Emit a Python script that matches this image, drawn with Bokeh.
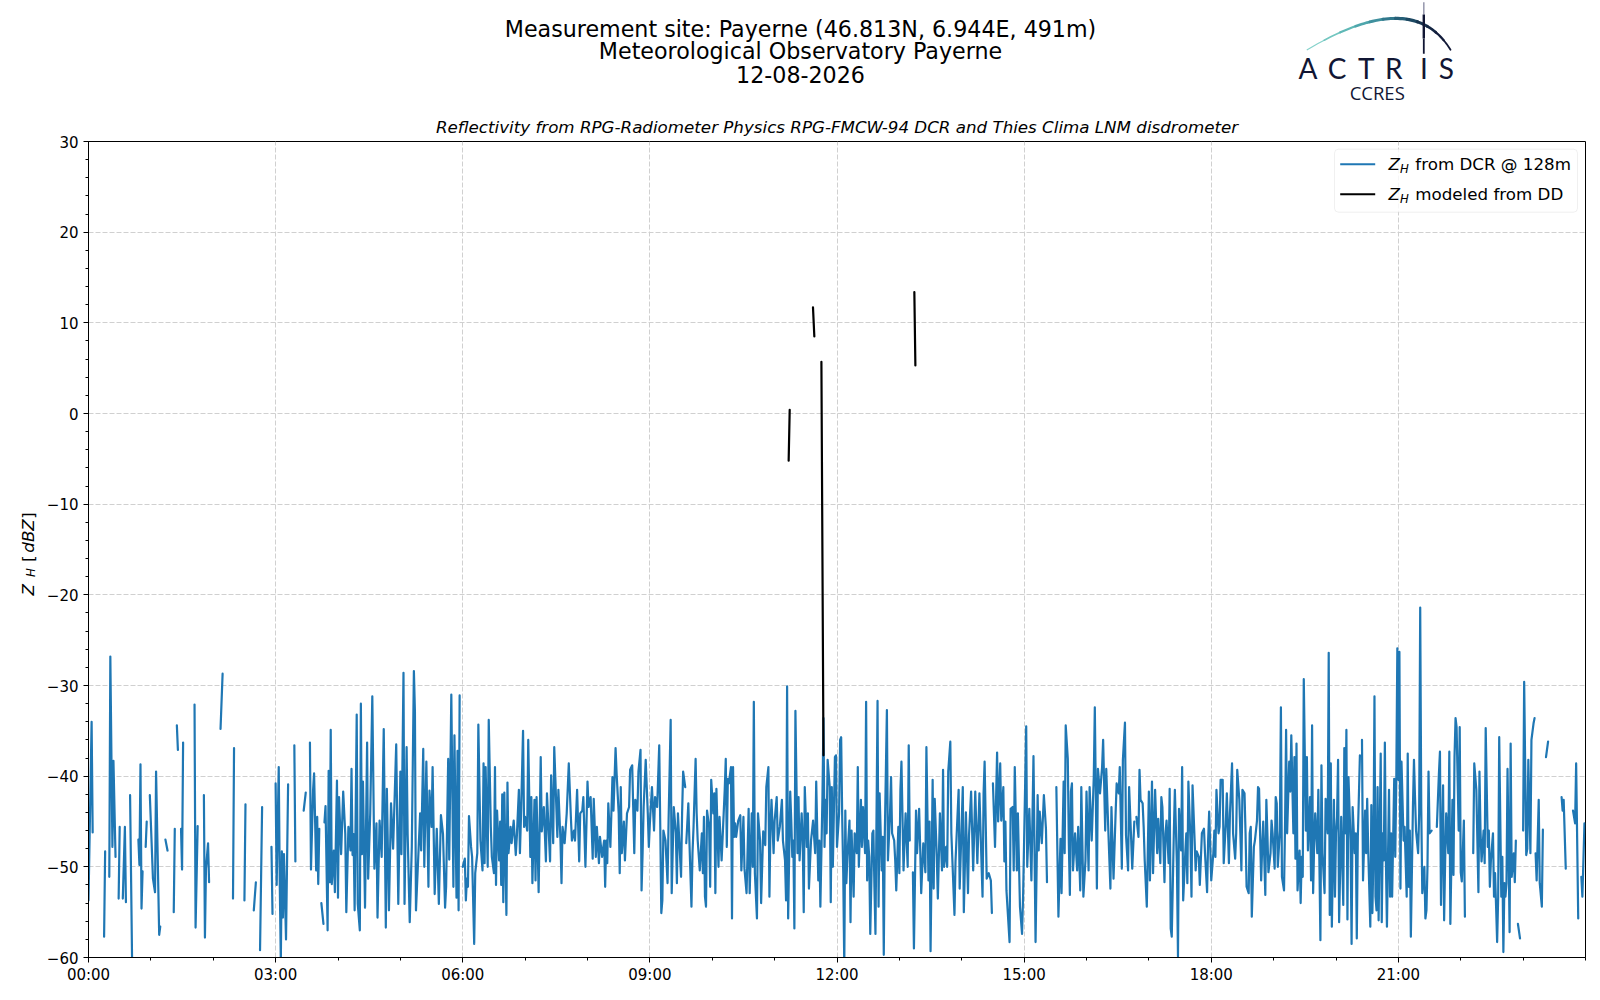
import numpy as np
from bokeh.plotting import figure
from bokeh.layouts import column, row
from bokeh.models import Range1d, FixedTicker, Label, BoxAnnotation
from bokeh.core.properties import value
from bokeh.embed import file_html
from bokeh.resources import INLINE

# ---------------- texts ----------------
SUPTITLE = ["Measurement site: Payerne (46.813N, 6.944E, 491m)",
            "Meteorological Observatory Payerne",
            "12-08-2026"]
SUBTITLE = "Reflectivity from RPG-Radiometer Physics RPG-FMCW-94 DCR and Thies Clima LNM disdrometer"
LEGEND_TEXT = ["from DCR @ 128m", "modeled from DD"]

X_TICKS_MIN = [0, 180, 360, 540, 720, 900, 1080, 1260]
X_TICK_LABELS = ["00:00", "03:00", "06:00", "09:00", "12:00", "15:00", "18:00", "21:00"]
X_MINOR_MIN = list(range(0, 1441, 60))
Y_TICKS = [-60, -50, -40, -30, -20, -10, 0, 10, 20, 30]
Y_TICK_LABELS = ["\u221260", "\u221250", "\u221240", "\u221230", "\u221220", "\u221210", "0", "10", "20", "30"]
Y_MINOR = list(range(-60, 31, 2))

# ---------------- data: Z_H from DCR (minute of day, dBZ); None = gap ----------------
DCR_00_03 = [
    (0, -53.7), (3, -34.0), (4, -46.2), None,
    (15, -57.7), (16, -48.3), None,
    (20, -51.1), (21, -26.8), (23, -47.8), (24, -38.3), (26, -48.9), None,
    (29, -53.5), (30, -45.6), None,
    (33, -53.5), (35, -45.6), (36, -53.9), None,
    (40, -42.1), (42, -61.0), None,
    (48, -47.0), (49, -49.8), (50, -38.7), (51, -54.6), (52, -50.5), None,
    (55, -47.8), (56, -45.0), None,
    (59, -42.1), (62, -51.3), (64, -52.8), (65, -39.5), (68, -57.5), (69, -56.6), None,
    (74, -47.0), (76, -48.2), None,
    (82, -55.0), (83, -45.8), None,
    (85, -34.4), (86, -37.1), None,
    (89, -45.8), (90, -50.3), (91, -36.3), None,
    (102, -32.1), (103, -56.7), (105, -45.5), None,
    (111, -42.1), (112, -57.8), (113, -50.2), (115, -47.4), (116, -51.7), None,
    (127, -34.8), (129, -28.7), None,
    (139, -53.5), (140, -36.9), None,
    (150, -53.7), (151, -43.1), None,
    (159, -54.8), (161, -51.7), None,
    (165, -59.2), (167, -43.4), None,
    (176, -47.8), (177, -55.2), None,
]
DCR_03_06 = [
    (180, -40.8), (181, -52.0), (183, -39.0), (184, -52.0), (185, -60.5), (186, -48.3),
    (187, -55.6), (188, -48.6), (190, -58.0), (192, -40.9), None,
    (198, -36.6), (199, -49.4), None,
    (207, -43.8), (209, -41.8), None,
    (213, -36.3), (214, -50.3), (216, -41.6), (217, -39.7), (219, -50.4), (220, -44.5),
    (221, -51.9), (222, -45.8), None,
    (224, -54.0), (226, -56.3), None,
    (227, -45.1), (228, -43.3), (230, -57.0), (231, -39.4), (232, -51.7), (233, -34.9),
    (234, -51.9), (236, -48.2), (237, -52.8), (239, -40.5), (240, -53.4), (241, -42.3),
    (243, -48.6), (245, -41.7), (247, -46.4), (248, -55.0), (250, -45.6), (252, -48.2),
    (253, -39.2), (254, -48.7), (255, -46.4), (256, -54.8), (258, -33.2), (259, -54.1),
    (261, -57.0), (262, -32.0), (263, -48.6), (264, -40.6), (266, -54.5), (268, -36.3),
    (269, -51.3), (271, -44.1), (273, -31.2), (275, -50.2), (277, -45.2), (278, -55.6),
    (280, -44.9), (282, -48.9), (284, -34.8), (286, -56.7), (287, -41.4), (289, -54.8),
    (291, -43.0), (293, -48.0), (296, -36.5), (298, -54.1), (300, -39.5), (301, -48.6),
    (303, -28.6), (304, -54.1), (306, -36.8), (307, -46.4), (309, -56.1), (311, -47.8),
    (313, -28.4), (314, -32.9), (315, -54.8), (319, -44.1), (320, -48.2), (322, -37.0),
    (323, -50.0), (325, -38.4), (327, -52.2), (328, -41.6), (330, -45.6), (331, -39.0),
    (333, -53.0), (335, -45.8), (337, -54.1), (339, -44.3), (341, -46.4), (343, -54.5),
    (344, -52.2), (346, -38.1), (347, -49.2), (349, -31.0), (351, -52.2), (352, -35.5),
    (354, -53.4), (355, -37.2), (356, -54.8), (357, -31.1),
]
DCR_06_09 = [
    (360, -50.0), (362, -49.1), (363, -53.7), (364, -51.3), (365, -52.2), (366, -44.4),
    (368, -47.8), (369, -48.9), (371, -58.5), (372, -50.7), (374, -48.5), (375, -34.3),
    (377, -47.1), (379, -50.4), (380, -38.6), (381, -49.6), (382, -39.0), (384, -50.0),
    (385, -33.8), (387, -45.6), (388, -48.9), (390, -50.7), (391, -39.0), (392, -52.0),
    (393, -43.8), (395, -49.3), (396, -45.0), (397, -52.0), (398, -42.0), (399, -53.9),
    (400, -41.8), (402, -55.3), (403, -40.7), (404, -48.5), (406, -45.6), (407, -47.4),
    (409, -44.9), (411, -48.7), (412, -46.7), (414, -41.5), (415, -48.5), (416, -44.5),
    (418, -35.0), (419, -45.6), (420, -44.5), (422, -46.0), (423, -36.0), (425, -48.9),
    (426, -42.3), (427, -51.8), (429, -42.6), (430, -51.5), (431, -42.3), (433, -52.8),
    (435, -37.9), (436, -46.1), (438, -43.4), (440, -49.4), (441, -41.9), (443, -46.9),
    (444, -49.4), (445, -39.9), (447, -47.4), (448, -36.8), (449, -40.0), (451, -46.7),
    (452, -41.5), (454, -47.1), (455, -51.8), (456, -45.6), (458, -47.4), (460, -44.1),
    (462, -38.6), (464, -44.5), (465, -47.1), (467, -46.0), (468, -47.1), (470, -41.5),
    (472, -49.4), (473, -44.1), (475, -43.8), (476, -42.3), (478, -50.0), (480, -40.6),
    (481, -43.4), (483, -42.3), (485, -49.1), (486, -42.5), (488, -48.9), (489, -45.6),
    (491, -49.6), (492, -46.7), (494, -48.9), (496, -47.1), (497, -52.2), (498, -47.1),
    (499, -49.6), (500, -43.0), (502, -47.8), (504, -40.1), (505, -43.8), (507, -36.9),
    (508, -39.7), (510, -44.1), (511, -50.7), (512, -41.2), (513, -48.5), (515, -45.0),
    (516, -49.3), (518, -44.1), (520, -43.4), (521, -39.3), (523, -38.8), (525, -48.5),
    (526, -42.6), (528, -43.8), (529, -39.5), (531, -37.1), (532, -52.6), (533, -48.5),
    (534, -43.4), (536, -38.2), (538, -44.1), (539, -47.8), (540, -45.2), (542, -41.2),
    (544, -46.0), (545, -42.3), (547, -43.4), (549, -36.6), (550, -45.6), (551, -55.1),
    (552, -53.7), (553, -46.0), (555, -47.1), (557, -51.8), (558, -44.9), (560, -33.8),
    (561, -52.9), (563, -43.4), (565, -46.3), (566, -51.8), (567, -44.1), (570, -51.1),
    (571, -44.1), (572, -39.5), (574, -41.2),
]
DCR_09_13 = [
    (575, -47.4), (577, -43.0), (578, -47.1), (580, -54.4), (581, -48.5), (582, -45.6),
    (584, -38.1), (585, -44.1), (586, -47.1), (588, -50.4), (590, -46.3), (591, -50.7),
    (592, -44.5), (593, -53.3), (594, -54.4), (595, -43.8), (597, -45.6), (598, -52.2),
    (599, -40.4), (601, -44.1), (602, -41.9), (603, -52.9), (604, -41.4), (606, -50.0),
    (607, -44.5), (609, -49.3), (611, -44.1), (612, -41.5), (613, -38.1), (614, -47.8),
    (615, -40.3), (616, -40.8), (618, -39.0), (619, -55.7), (620, -39.0), (621, -46.7),
    (622, -45.2), (623, -46.7), (625, -44.9), (627, -44.3), (628, -50.4), (630, -44.5),
    (631, -50.2), (633, -52.9), (635, -43.6), (636, -52.9), (638, -44.1), (639, -50.0),
    (640, -31.8), (641, -50.7), (643, -55.7), (644, -44.1), (646, -47.1), (647, -54.0),
    (649, -46.1), (651, -47.6), (652, -41.2), (654, -39.0), (655, -53.3), (656, -45.6),
    (657, -42.6), (659, -48.5), (660, -44.9), (662, -42.3), (663, -47.1), (665, -45.6),
    (667, -42.6), (668, -47.1), (670, -49.3), (671, -53.7), (672, -30.1), (673, -55.7),
    (675, -41.7), (676, -44.9), (677, -48.9), (678, -47.1), (679, -56.8), (680, -32.8),
    (682, -48.5), (683, -42.3), (684, -49.3), (686, -44.1), (687, -47.1), (688, -55.0),
    (689, -41.2), (691, -47.8), (692, -44.1), (693, -52.4), (695, -47.1), (696, -46.0),
    (697, -44.9), (699, -48.5), (700, -40.6), (702, -51.5), (703, -47.1), (704, -54.4),
    (706, -42.3), (707, -33.6), (708, -47.8), (709, -42.6), (710, -46.3), (711, -38.2),
    (713, -41.2), (714, -53.9), (715, -41.2), (716, -50.0), (718, -37.9), (719, -37.7),
    (720, -47.8), (722, -44.1), (723, -36.0), (724, -35.7), (725, -44.5), (726, -50.7),
    (727, -61.0), (728, -43.8), (729, -51.8), (730, -48.9), (732, -44.9), (733, -56.1),
    (734, -46.0), (736, -53.3), (737, -46.3), (739, -48.5), (740, -39.0), (741, -50.0),
    (743, -42.6), (744, -47.8), (745, -43.4), (747, -48.5), (748, -31.8), (749, -51.5),
    (750, -47.1), (751, -48.9), (752, -57.4), (754, -46.3), (755, -46.0), (756, -52.2),
    (757, -57.4), (759, -31.7), (760, -54.4), (761, -41.9), (763, -50.4), (764, -46.7),
    (765, -59.7), (766, -46.3), (768, -32.7), (769, -49.3), (771, -44.1), (772, -40.1),
    (773, -46.3), (775, -47.1), (776, -49.3), (777, -52.6), (779, -45.6), (780, -50.7),
    (781, -41.5), (782, -38.4), (784, -50.4), (785, -47.1), (786, -44.1), (788, -50.0),
    (789, -36.6), (790, -47.1),
]
DCR_13_17 = [
    (793, -50.6), (794, -59.0), (796, -43.8), (797, -48.5), (799, -43.6), (800, -47.8),
    (801, -52.9), (803, -47.4), (805, -50.6), (806, -36.8), (808, -51.5), (809, -45.0),
    (810, -59.3), (812, -40.4), (813, -52.4), (814, -42.5), (816, -48.9), (817, -53.5),
    (819, -44.1), (821, -50.4), (822, -39.3), (823, -50.0), (825, -47.8), (826, -50.0),
    (827, -39.5), (829, -36.2), (830, -46.3), (833, -55.3), (834, -49.4), (837, -41.5),
    (838, -52.4), (841, -41.2), (842, -55.0), (843, -50.0), (844, -44.0), (846, -52.9),
    (847, -46.5), (849, -41.7), (851, -50.4), (853, -41.7), (855, -49.6), (857, -41.9),
    (860, -53.3), (861, -41.9), (862, -38.4), (864, -51.3), (866, -50.7), (868, -51.5),
    (869, -55.1), None,
    (870, -40.8), (872, -47.8), (874, -37.4), (875, -45.0), (877, -38.6), (878, -44.9),
    (880, -41.2), (881, -49.4), (882, -45.0), (883, -52.6), (886, -58.3), (887, -43.6),
    (889, -43.4), (890, -50.4), (891, -39.0), (893, -50.4), (894, -44.1), (896, -54.4),
    (898, -57.4), (899, -53.3), (902, -34.5), (903, -50.0), (905, -43.6), (907, -51.5),
    (909, -37.8), (911, -58.3), (913, -42.1), (914, -48.2), (915, -43.9), (917, -47.4),
    (919, -42.1), (921, -45.8), (922, -51.7), None,
    (931, -41.2), (933, -55.5), (935, -46.9), (936, -52.9), (938, -40.6), (939, -48.5),
    (940, -34.4), (942, -38.1), (943, -47.4), (944, -53.1), (945, -41.7), (946, -40.8),
    (947, -50.4), (949, -46.3), (951, -50.4), (952, -45.6), (954, -52.6), (955, -41.2),
    (957, -53.3), (959, -49.3), (960, -41.7), (962, -50.4), (963, -41.2), (965, -47.1),
    (967, -40.1), (968, -32.4), (970, -52.4), (971, -39.2), (973, -41.9), (975, -39.0),
    (976, -36.0), (978, -46.0), (979, -39.2), (981, -46.0), (983, -52.4), (984, -43.4),
    (986, -51.3), (988, -44.1), (989, -40.8), (991, -41.9), (992, -39.0), (994, -50.2),
    (995, -38.2), (997, -34.1), (998, -46.5), (1000, -50.4), (1001, -41.2), (1003, -47.1),
    (1004, -50.2), (1006, -45.0),
]
DCR_17_20 = [
    (1008, -44.5), (1010, -46.7), (1011, -39.3), (1012, -42.6), (1014, -43.0), (1015, -45.6),
    (1016, -49.3), (1018, -54.4), (1020, -41.7), (1021, -51.5), (1023, -40.6), (1024, -50.7),
    (1026, -41.5), (1028, -48.5), (1029, -44.7), (1031, -49.6), (1032, -42.3), (1033, -43.4),
    (1035, -51.7), (1036, -46.3), (1037, -44.9), (1039, -49.6), (1040, -41.4), (1041, -56.8),
    (1042, -57.7), (1044, -46.3), (1045, -41.5), (1047, -50.0), (1048, -59.9), (1049, -43.6),
    (1051, -48.2), (1052, -39.0), (1053, -53.7), (1055, -48.5), (1056, -46.3), (1057, -51.8),
    (1058, -40.6), (1060, -47.1), (1061, -53.3), (1062, -41.0), (1064, -47.1), (1065, -50.4),
    (1066, -48.3), (1068, -48.9), (1069, -52.0), (1071, -46.3), (1073, -45.8), (1074, -48.5),
    (1076, -52.8), (1077, -47.1), (1078, -43.9), (1080, -51.5), (1082, -48.5), (1083, -46.0),
    (1084, -48.9), (1085, -41.5), (1087, -46.3), (1088, -45.6), (1089, -40.4), (1091, -40.4),
    (1092, -49.6), (1094, -45.2), (1095, -41.9), (1097, -49.6), (1098, -44.1), (1100, -38.6),
    (1101, -46.3), (1103, -49.1), (1104, -46.3), (1105, -39.3), (1107, -42.6), (1108, -46.3),
    (1109, -50.4), (1110, -41.5), (1112, -41.9), (1113, -46.3), (1114, -52.2), (1116, -52.9),
    (1117, -46.3), (1118, -45.6), (1119, -55.5), (1121, -47.8), (1122, -47.1), (1124, -44.9),
    (1125, -41.2), (1126, -41.4), (1128, -51.5), (1129, -47.8), (1130, -45.0), (1132, -53.1),
    (1133, -42.6), (1134, -46.3), (1135, -50.6), (1137, -48.5), (1138, -44.9), (1139, -46.3),
    (1141, -50.2), (1142, -42.3), (1143, -43.0), (1144, -50.0), (1146, -46.0), (1147, -32.4),
    (1148, -51.1), (1150, -52.6), (1151, -45.2), (1152, -34.9), (1153, -46.3), (1155, -38.4),
    (1156, -41.7), (1157, -35.5), (1159, -46.3), (1160, -37.9), (1161, -49.1), (1162, -36.4),
    (1163, -52.6), (1165, -48.2), (1166, -54.0), (1167, -48.9), (1168, -51.1), (1169, -29.3),
    (1171, -46.0), (1172, -37.9), (1173, -48.2), (1175, -42.3), (1176, -51.5), (1177, -34.4),
    (1178, -52.9), (1179, -47.4), (1180, -44.1), (1182, -48.5), (1183, -41.5), (1184, -49.3),
    (1185, -58.1), (1186, -38.8), (1187, -48.5), (1189, -52.9), (1190, -42.5), (1191, -44.1),
    (1192, -46.3), (1193, -26.4), (1194, -55.3), (1195, -38.6), (1196, -56.6), (1198, -42.6),
    (1199, -53.3), (1200, -46.3), (1201, -44.5), (1202, -38.2), (1203, -56.1), (1205, -44.5),
    (1206, -49.3), (1207, -54.2), (1208, -36.9), (1209, -46.3), (1210, -34.9), (1211, -55.8),
    (1212, -40.1), (1214, -47.1), (1215, -58.5), (1216, -43.4), (1218, -48.5), (1219, -46.3),
    (1220, -57.9), (1221, -46.7), (1223, -37.7),
]
DCR_20_24 = [
    (1225, -36.0), (1226, -51.5), (1228, -43.8), (1229, -48.5), (1230, -42.5), (1231, -48.2),
    (1233, -56.6), (1234, -43.2), (1235, -55.1), (1236, -48.5), (1237, -31.2), (1238, -53.3),
    (1239, -54.8), (1240, -41.2), (1241, -55.9), (1243, -37.5), (1244, -56.1), (1245, -46.3),
    (1246, -49.3), (1247, -36.3), (1248, -49.3), (1249, -56.6), (1251, -41.5), (1252, -53.3),
    (1253, -46.3), (1254, -53.3), (1256, -40.3), (1257, -48.9), (1258, -40.4), (1259, -25.9),
    (1260, -40.4), (1261, -26.3), (1262, -52.4), (1263, -38.4), (1265, -47.1), (1266, -45.6),
    (1268, -53.3), (1269, -37.5), (1270, -52.2), (1271, -46.0), (1272, -57.7), (1274, -43.4),
    (1275, -38.2), (1276, -42.3), (1277, -46.0), (1279, -48.5), (1280, -44.1), (1281, -21.4),
    (1282, -43.4), (1283, -52.9), (1285, -50.0), (1286, -55.7), (1287, -54.8), (1288, -50.0),
    (1289, -39.5), (1290, -46.3), (1292, -46.0), None,
    (1297, -45.6), (1299, -39.7), (1300, -37.3), (1301, -54.2), (1303, -41.0), (1304, -55.9),
    (1305, -49.3), (1306, -44.1), (1308, -48.5), (1309, -37.3), (1310, -56.3), (1312, -42.6),
    (1313, -50.9), (1314, -37.9), (1315, -33.6), (1316, -34.6), (1318, -46.0), (1319, -34.6),
    (1320, -50.6), (1321, -51.6), (1323, -44.9), (1324, -55.5), None,
    (1332, -48.5), (1333, -38.6), (1335, -41.5), (1337, -52.8), (1338, -39.5), (1339, -46.0),
    (1340, -49.4), (1342, -46.0), (1343, -49.6), (1344, -34.7), (1346, -47.8), (1347, -46.0),
    (1348, -52.2), (1349, -49.3), (1351, -46.3), (1352, -53.3), (1353, -50.7), (1354, -54.4),
    (1355, -58.3), (1356, -53.3), (1357, -35.7), (1359, -53.3), (1360, -48.9), (1361, -59.4),
    (1362, -51.8), (1363, -53.3), (1364, -51.8), (1365, -39.2), (1367, -57.2), (1368, -36.4),
    (1369, -51.1), (1371, -48.5), (1372, -51.7), (1373, -47.1), None,
    (1375, -56.3), (1377, -57.9), None,
    (1380, -46.0), (1381, -29.6), (1383, -48.7), (1384, -48.0), (1385, -38.2), (1387, -48.5),
    (1388, -36.0), (1390, -34.2), (1391, -33.6), None,
    (1392, -48.5), (1393, -51.5), (1395, -42.6), (1396, -51.8), (1398, -54.4), (1399, -45.9), None,
    (1402, -37.9), (1404, -36.2), None,
    (1417, -42.3), (1418, -43.8), (1419, -42.6), (1421, -50.2), None,
    (1428, -43.8), (1430, -45.2), (1431, -38.6), (1433, -55.7), None,
    (1436, -51.1), (1437, -53.3), (1439, -45.2),
]

# ---------------- data: Z_H modeled from disdrometer ----------------
DD_TIME_MIN = [673.5, 674.5, None, 696.9, 698.2, None, 705.0, 707.0, None, 794.4, 795.4]
DD_ZH = [-5.2, 0.4, None, 11.7, 8.5, None, 5.7, -37.7, None, 13.4, 5.3]

# ---------------- styles ----------------
BLUE = "#1f77b4"
NAVY = "#111634"
GRID = "#d0d0d0"
FONT = "DejaVu Sans"
ARC_COLORS = ["#86d2cb", "#72c6c0", "#5fb8b6", "#4ea6ac", "#3f909e", "#31788c",
              "#265f77", "#1d4862", "#18344f", "#142643", "#121c3b", "#111836"]
ARC_WIDTHS = [1.2, 1.7, 2.2, 2.6, 2.9, 3.1, 3.2, 3.2, 3.0, 2.7, 2.3, 1.8]


def blocks_to_xy(*blocks):
    xs, ys = [], []
    for block in blocks:
        for item in block:
            if item is None:
                xs.append(np.nan)
                ys.append(np.nan)
            else:
                xs.append(float(item[0]))
                ys.append(float(item[1]))
        xs.append(np.nan)
        ys.append(np.nan)
    return np.array(xs), np.array(ys)


dcr_t, dcr_z = blocks_to_xy(DCR_00_03, DCR_03_06, DCR_06_09, DCR_09_13,
                            DCR_13_17, DCR_17_20, DCR_20_24)
dd_t = np.array([np.nan if v is None else v for v in DD_TIME_MIN], dtype=float)
dd_z = np.array([np.nan if v is None else v for v in DD_ZH], dtype=float)

# ---------------- geometry (page pixels) ----------------
W = 1596
BORDER_TOP = 32
HEAD_H = 141 - BORDER_TOP
YLAB_W = 40
FRAME_LEFT = 88
FRAME_W = 1497
FRAME_H = 816
BORDER_BOTTOM = 40
MAIN_H = BORDER_TOP + FRAME_H + BORDER_BOTTOM

# ---------------- header (suptitle + logo) ----------------
head = figure(width=W, height=HEAD_H, x_range=Range1d(0, W), y_range=Range1d(HEAD_H, 0),
              x_axis_type=None, y_axis_type=None, toolbar_location=None,
              output_backend="svg", min_border=0, min_border_left=0, min_border_right=0,
              min_border_top=0, min_border_bottom=0, outline_line_color=None)
head.frame_align = False
# text anchors are the visual middle of the capitals
head.text(x=[800, 800, 800], y=[28.4, 50.9, 74.2], text=SUPTITLE,
          text_font=value(FONT), text_font_size="22.2px", text_align="center",
          text_baseline="alphabetic", text_color="black")

LOGO_LETTERS = ["A", "C", "T", "R", "I", "S"]
LOGO_X = [1307.5, 1336.7, 1365.8, 1393.3, 1423.5, 1445.8]
head.text(x=LOGO_X, y=[67.5] * 6, text=LOGO_LETTERS, text_font=value("Lato"),
          text_font_size="28px", text_align="center", text_baseline="alphabetic",
          text_color=NAVY)
head.text(x=[1376.7], y=[91.5], text=["CCRES"], text_font=value("Open Sans"),
          text_font_size="18.5px", text_align="center", text_baseline="alphabetic",
          text_color=NAVY)
P0, P1, P2 = (1306.7, 49.3), (1411.7, -13.5), (1450.0, 49.3)
arc_xs, arc_ys = [], []
n_arc = len(ARC_COLORS)
for i in range(n_arc):
    ts = np.linspace(i / n_arc, (i + 1) / n_arc, 6)
    arc_xs.append(list((1 - ts) ** 2 * P0[0] + 2 * (1 - ts) * ts * P1[0] + ts ** 2 * P2[0]))
    arc_ys.append(list((1 - ts) ** 2 * P0[1] + 2 * (1 - ts) * ts * P1[1] + ts ** 2 * P2[1]))
head.multi_line(arc_xs, arc_ys, line_color=ARC_COLORS, line_width=ARC_WIDTHS, line_cap="round")
head.multi_line([[1423.3, 1423.3], [1423.3, 1423.3], [1423.3, 1423.3]],
                [[1.7, 14], [14, 38], [38, 53.3]],
                line_color=["#9a9cb0", NAVY, NAVY], line_width=[1.6, 2.4, 1.8])

# ---------------- y-axis label strip: Z_H [dBZ] ----------------
ylab = figure(width=YLAB_W, height=MAIN_H, x_range=Range1d(0, YLAB_W), y_range=Range1d(0, FRAME_H),
              x_axis_type=None, y_axis_type=None, toolbar_location=None,
              output_backend="svg", min_border_left=0, min_border_right=0,
              min_border_top=BORDER_TOP, min_border_bottom=BORDER_BOTTOM,
              outline_line_color=None)
YL_PARTS = [("Z", 27.5, 362.0, "16.7px", "italic"),
            ("H", 30.5, 380.5, "11.7px", "italic"),
            ("[", 27.5, 395.5, "16.7px", "normal"),
            ("dBZ", 27.5, 404.8, "16.7px", "italic"),
            ("]", 27.5, 438.8, "16.7px", "normal")]
for txt, lx, ly, fs, st in YL_PARTS:
    ylab.text(x=[lx], y=[ly], text=[txt], angle=np.pi / 2, text_font=value(FONT),
              text_font_size=fs, text_font_style=st, text_align="left",
              text_baseline="alphabetic", text_color="black")

# ---------------- main plot ----------------
p = figure(width=W - YLAB_W, height=MAIN_H, x_range=Range1d(0, 1440), y_range=Range1d(-60, 30),
           toolbar_location=None, output_backend="svg", title=SUBTITLE,
           min_border_left=FRAME_LEFT - YLAB_W, min_border_right=W - FRAME_LEFT - FRAME_W,
           min_border_top=BORDER_TOP, min_border_bottom=BORDER_BOTTOM)
p.title.align = "center"
p.title.text_font = FONT
p.title.text_font_style = "italic"
p.title.text_font_size = "16.7px"
p.title.text_color = "black"
p.title.standoff = 10
p.extra_x_ranges = {"px": Range1d(0, FRAME_W)}
p.extra_y_ranges = {"px": Range1d(0, FRAME_H)}

p.outline_line_color = "black"
p.outline_line_width = 1
p.border_fill_color = "white"
p.background_fill_color = "white"

p.xaxis.ticker = FixedTicker(ticks=X_TICKS_MIN, minor_ticks=X_MINOR_MIN)
p.xaxis.major_label_overrides = dict(zip(X_TICKS_MIN, X_TICK_LABELS))
p.yaxis.ticker = FixedTicker(ticks=Y_TICKS, minor_ticks=Y_MINOR)
p.yaxis.major_label_overrides = dict(zip(Y_TICKS, Y_TICK_LABELS))
for ax in (p.xaxis, p.yaxis):
    ax.axis_line_color = "black"
    ax.axis_line_width = 1
    ax.major_tick_line_color = "black"
    ax.minor_tick_line_color = "black"
    ax.major_tick_out = 5
    ax.major_tick_in = 0
    ax.minor_tick_out = 3
    ax.minor_tick_in = 0
    ax.major_label_text_font = FONT
    ax.major_label_text_font_size = "15px"
    ax.major_label_text_color = "black"
p.xaxis.major_label_standoff = 3
p.yaxis.major_label_standoff = 5

p.xgrid.ticker = FixedTicker(ticks=X_TICKS_MIN)
p.ygrid.ticker = FixedTicker(ticks=Y_TICKS)
for g in (p.xgrid, p.ygrid):
    g.grid_line_color = GRID
    g.grid_line_dash = "5 2"
    g.grid_line_width = 1

p.line(dcr_t, dcr_z, line_color=BLUE, line_width=2.2, line_join="round", line_cap="round")
p.line(dd_t, dd_z, line_color="black", line_width=2.2, line_join="round", line_cap="round")

# legend (frame pixel coordinates)
p.add_layout(BoxAnnotation(left=1246, right=1489, bottom=745.3, top=808.3,
                           x_range_name="px", y_range_name="px",
                           fill_color="white", fill_alpha=0.8,
                           line_color="#cccccc", line_width=1, border_radius=4))
for (col, yc, rest) in [(BLUE, 793.3, LEGEND_TEXT[0]), ("black", 763.3, LEGEND_TEXT[1])]:
    p.line([1251.7, 1286.7], [yc, yc], x_range_name="px", y_range_name="px",
           line_color=col, line_width=2.1, level="overlay")
    p.add_layout(Label(x=1300.0, y=yc, x_range_name="px", y_range_name="px", text="Z",
                       text_font=FONT, text_font_style="italic", text_font_size="16.7px",
                       text_baseline="alphabetic", text_color="black"))
    p.add_layout(Label(x=1311.4, y=yc - 4.8, x_range_name="px", y_range_name="px", text="H",
                       text_font=FONT, text_font_style="italic", text_font_size="11.7px",
                       text_baseline="alphabetic", text_color="black"))
    p.add_layout(Label(x=1326.8, y=yc, x_range_name="px", y_range_name="px", text=rest,
                       text_font=FONT, text_font_size="16.7px",
                       text_baseline="alphabetic", text_color="black"))

layout = column(head, row(ylab, p))
open("out.html", "w").write(file_html(layout, INLINE))
